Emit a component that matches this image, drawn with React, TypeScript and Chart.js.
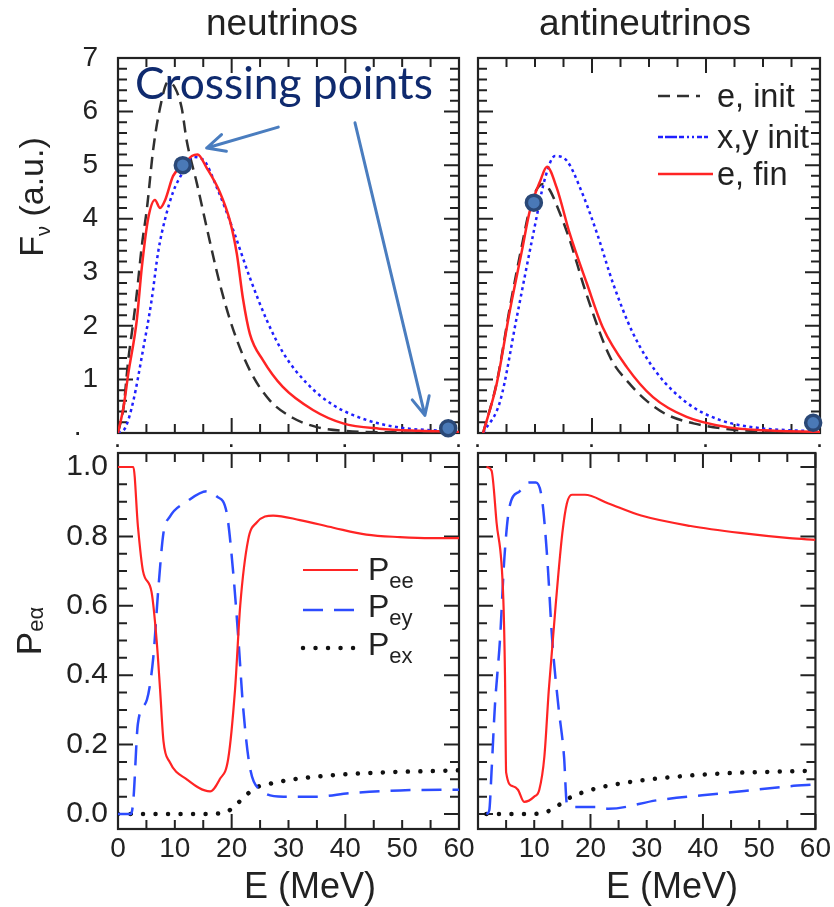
import { useEffect, useRef } from 'react';
import { Chart, registerables } from 'chart.js';

Chart.register(...registerables);

const W = 834;
const H = 907;
const FONT = '"Liberation Sans", Arial, Helvetica, sans-serif';
const HAND = '"Comic Sans MS", "Lato", "DejaVu Sans", sans-serif';
const INK = '#222222';
const RED = '#ff2424';
const BLUE = '#2020ff';
const BLUE2 = '#2d4cff';
const BLACK = '#303030';
const NAVY = '#0f2a6e';
const ARROW = '#4a7dbf';

// ---------------- text ----------------
const panelTitles = ['neutrinos', 'antineutrinos'];
const fluxLegend = ['e, init', 'x,y init', 'e, fin'];
const probLegendMain = 'P';
const probLegendSubs = ['ee', 'ey', 'ex'];
const xAxisTitle = 'E (MeV)';
const crossingLabel = 'Crossing points';

// ---------------- tick values ----------------
const energyTicks = [0, 10, 20, 30, 40, 50, 60];
const energyDotTicks = [0, 20, 40, 60];
const fluxTicks = [0, 1, 2, 3, 4, 5, 6, 7];
const probTicks = [0, 0.2, 0.4, 0.6, 0.8, 1.0];

// ---------------- neutrinos: spectra ----------------
const nuInitE = [0, 1, 1.8, 2.6, 3.3, 4.2, 5.1, 6.2, 7.4, 8.8, 10.0, 11.2, 12.1, 13.9, 15.6, 17.9, 20.3, 23.2, 26.7, 30.8, 35, 40, 50, 60];
const nuInitF = [0, 0.5, 1.36, 2.0, 2.6, 3.5, 4.2, 5.3, 6.07, 6.55, 6.45, 6.07, 5.45, 4.65, 3.84, 2.79, 1.92, 1.17, 0.61, 0.28, 0.11, 0.04, 0.01, 0];

const nuXyE = [0, 1.3, 2.7, 4.4, 5.9, 7.1, 8.3, 9.7, 11.2, 13.2, 15.0, 17.4, 20.3, 23.2, 26.2, 29.1, 33.2, 37.9, 43.8, 49.7, 55.5, 60];
const nuXyF = [0, 0.1, 0.6, 1.55, 2.47, 3.4, 4.0, 4.5, 4.83, 5.15, 5.1, 4.58, 3.78, 2.9, 2.1, 1.49, 0.93, 0.52, 0.24, 0.1, 0.05, 0.03];

const nuFinE = [0, 1, 1.8, 3.3, 4.2, 5.3, 6.5, 7.4, 8.3, 9.7, 11.5, 13.0, 14.0, 15.6, 17.9, 19.7, 20.9, 22.0, 23.2, 25.5, 29.0, 34.3, 39.6, 46, 53, 60];
const nuFinF = [0, 0.5, 1.1, 2.1, 3.1, 4.0, 4.35, 4.2, 4.35, 4.8, 5.0, 5.17, 5.2, 4.95, 4.5, 3.96, 3.35, 2.5, 1.85, 1.36, 0.86, 0.43, 0.18, 0.08, 0.04, 0.02];

// ---------------- antineutrinos: spectra ----------------
const anuInitE = [0.9, 3.3, 5.6, 7.7, 9.1, 10.3, 11.4, 12.5, 14, 16.1, 19, 23.2, 26.5, 29.6, 33, 37.8, 44, 50, 60];
const anuInitF = [0, 0.95, 2.35, 3.5, 4.2, 4.55, 4.65, 4.55, 4.2, 3.6, 2.6, 1.41, 0.93, 0.6, 0.35, 0.18, 0.07, 0.03, 0.01];

const anuXyE = [0.9, 3.9, 6.8, 9.7, 11.8, 13.5, 15.6, 17.9, 20.9, 23.7, 27.2, 31.4, 36.7, 42.5, 49.5, 55, 60];
const anuXyF = [0, 0.6, 2.16, 3.72, 4.77, 5.17, 5.08, 4.58, 3.72, 2.79, 1.86, 1.12, 0.56, 0.24, 0.09, 0.05, 0.03];

const anuFinE = [0.9, 3.3, 5.6, 7.7, 9.1, 10.9, 12.1, 13.8, 16.1, 19.1, 21.9, 26.1, 30.7, 36.6, 43.6, 50, 60];
const anuFinF = [0, 0.93, 2.29, 3.4, 4.15, 4.7, 4.97, 4.58, 3.72, 2.79, 1.97, 1.23, 0.67, 0.3, 0.11, 0.05, 0.02];

// ---------------- crossing points ----------------
const nuCrossE = [11.4, 58.1];
const nuCrossF = [5.0, 0.09];
const anuCrossE = [9.8, 58.8];
const anuCrossF = [4.3, 0.19];

// ---------------- neutrinos: probabilities ----------------
const nuPeeE = [0, 2.7, 3.5, 4.4, 5.9, 6.8, 7.4, 8.0, 9.1, 12.1, 16.2, 17.9, 19.4, 20.6, 21.5, 22.9, 24.4, 27.3, 32, 37.9, 43.7, 49.6, 55, 60];
const nuPeeP = [1.0, 1.0, 0.83, 0.70, 0.64, 0.50, 0.36, 0.21, 0.15, 0.10, 0.065, 0.10, 0.16, 0.36, 0.60, 0.79, 0.84, 0.86, 0.847, 0.825, 0.805, 0.798, 0.795, 0.795];

const nuPeyE = [0, 2.3, 2.7, 3.5, 5.1, 6.2, 7.1, 8.0, 9.1, 12.1, 15.6, 17.4, 19.1, 20.3, 21.2, 22.0, 23.2, 25.0, 29.1, 35, 40.8, 49.6, 58.4, 60];
const nuPeyP = [0, 0, 0.04, 0.26, 0.33, 0.45, 0.65, 0.81, 0.856, 0.90, 0.93, 0.915, 0.87, 0.69, 0.50, 0.31, 0.135, 0.07, 0.05, 0.05, 0.06, 0.068, 0.07, 0.07];

const nuPexE = [0, 5, 10, 15, 19, 20.3, 22.3, 24.1, 26.2, 30.9, 37.9, 46.7, 58.4, 60];
const nuPexP = [0, 0, 0, 0, 0.005, 0.02, 0.05, 0.075, 0.085, 0.10, 0.112, 0.12, 0.125, 0.126];

// ---------------- antineutrinos: probabilities ----------------
const anuPeeE = [1.5, 2.4, 3.3, 4.5, 4.8, 5.0, 6.2, 7.1, 8.2, 10.0, 10.9, 11.8, 12.6, 13.8, 15.0, 15.8, 16.7, 19.0, 23.2, 29.0, 37.8, 46.6, 55.4, 60];
const anuPeeP = [1.0, 0.99, 0.84, 0.62, 0.4, 0.12, 0.08, 0.07, 0.035, 0.05, 0.07, 0.165, 0.36, 0.60, 0.81, 0.895, 0.92, 0.92, 0.895, 0.86, 0.83, 0.81, 0.795, 0.79];

const anuPeyE = [1.5, 2.0, 2.4, 3.0, 3.9, 4.7, 5.6, 7.4, 9.1, 10.3, 11.4, 12.3, 13.2, 14.3, 15.3, 15.8, 17.2, 21.4, 23.2, 32, 43.6, 55.4, 60];
const anuPeyP = [0, 0.01, 0.12, 0.31, 0.5, 0.74, 0.885, 0.93, 0.955, 0.955, 0.905, 0.74, 0.5, 0.31, 0.165, 0.03, 0.02, 0.02, 0.015, 0.04, 0.06, 0.08, 0.085];

const anuPexE = [1.5, 5, 9, 12.0, 14.3, 16.1, 20.2, 26.1, 34.9, 43.6, 55.4, 60];
const anuPexP = [0, 0, 0, 0.005, 0.025, 0.045, 0.07, 0.09, 0.107, 0.117, 0.123, 0.125];

// ---------------- annotation anchors (data coordinates of the top-left panel) ----------------
const crossingLabelAt = [29.2, 6.23];
const arrowToPeak = [[28.2, 5.71], [15.6, 5.32]];
const arrowToTail = [[41.7, 5.79], [54.0, 0.33]];

// ---------------- styles ----------------
const S_INIT = { color: BLACK, width: 2.5, dash: [12, 7], cap: 'butt' };
const S_XY = { color: BLUE, width: 2.5, dash: [3, 3.5], cap: 'butt' };
const S_XY_LEG = { color: BLUE, width: 2.5, dash: [5, 2, 12, 2, 5, 3, 2, 3, 2, 3], cap: 'butt' };
const S_FIN = { color: RED, width: 2.5, dash: [] as number[], cap: 'butt' };
const S_PEE = { color: RED, width: 2.2, dash: [] as number[], cap: 'butt' };
const S_PEY = { color: BLUE2, width: 2.5, dash: [20, 11], cap: 'butt' };
const S_PEX = { color: '#111111', width: 4.5, dash: [0.01, 12.5], cap: 'round' };

type Style = { color: string; width: number; dash: number[]; cap: string };

const pts = (xs: number[], ys: number[]) => xs.map((x, i) => ({ x, y: ys[i] }));

function lineDs(xs: number[], ys: number[], s: Style, order: number) {
  return {
    data: pts(xs, ys),
    borderColor: s.color,
    backgroundColor: s.color,
    borderWidth: s.width,
    borderDash: s.dash,
    borderCapStyle: s.cap,
    pointRadius: 0,
    pointHoverRadius: 0,
    fill: false,
    cubicInterpolationMode: 'monotone',
    order,
  };
}

function dotsDs(xs: number[], ys: number[]) {
  return {
    data: pts(xs, ys),
    showLine: false,
    pointRadius: 7.5,
    pointHoverRadius: 7.5,
    pointBorderWidth: 3.5,
    pointBackgroundColor: '#4a79b7',
    pointBorderColor: '#2a4877',
    borderColor: 'rgba(0,0,0,0)',
    order: -1,
    clip: false,
  };
}

// ---------------- drawing helpers ----------------
type Part = { t: string; size: number; dy?: number };

function drawRich(ctx: CanvasRenderingContext2D, parts: Part[], x: number, y: number, align: 'left' | 'center', rotate = false, color = INK) {
  ctx.save();
  ctx.translate(x, y);
  if (rotate) ctx.rotate(-Math.PI / 2);
  ctx.textBaseline = 'alphabetic';
  ctx.textAlign = 'left';
  ctx.fillStyle = color;
  let w = 0;
  for (const p of parts) {
    ctx.font = `${p.size}px ${FONT}`;
    w += ctx.measureText(p.t).width;
  }
  let cx = align === 'center' ? -w / 2 : 0;
  for (const p of parts) {
    ctx.font = `${p.size}px ${FONT}`;
    ctx.fillText(p.t, cx, p.dy || 0);
    cx += ctx.measureText(p.t).width;
  }
  ctx.restore();
}

function sample(ctx: CanvasRenderingContext2D, s: Style, x1: number, x2: number, y: number) {
  ctx.save();
  ctx.strokeStyle = s.color;
  ctx.lineWidth = s.width;
  ctx.setLineDash(s.dash);
  ctx.lineCap = s.cap as CanvasLineCap;
  ctx.beginPath();
  ctx.moveTo(x1, y);
  ctx.lineTo(x2, y);
  ctx.stroke();
  ctx.restore();
}

function drawArrow(ctx: CanvasRenderingContext2D, x1: number, y1: number, x2: number, y2: number) {
  const ang = Math.atan2(y2 - y1, x2 - x1);
  const head = 20;
  ctx.save();
  ctx.strokeStyle = ARROW;
  ctx.lineWidth = 3;
  ctx.lineCap = 'round';
  ctx.lineJoin = 'round';
  ctx.beginPath();
  ctx.moveTo(x1, y1);
  ctx.lineTo(x2, y2);
  for (const s of [-1, 1]) {
    const a = ang + Math.PI + s * 0.45;
    ctx.moveTo(x2, y2);
    ctx.lineTo(x2 + head * Math.cos(a), y2 + head * Math.sin(a));
  }
  ctx.stroke();
  ctx.restore();
}

const isMultiple = (v: number, m: number) => Math.abs(v / m - Math.round(v / m)) < 1e-6;

type Panel = {
  key: string;
  left: number; top: number; right: number; bottom: number;
  datasets: any[];
  yMin: number; yMax: number;
  yMinor: number; yMajor: number;
  xLabelMode: 'dots' | 'numbers' | 'numbersNoZero';
  yLabelMode: 'flux' | 'prob' | 'none';
  decorate: (chart: any, ctx: CanvasRenderingContext2D) => void;
};

function framePlugin(p: Panel) {
  return {
    id: 'frame' + p.key,
    beforeDatasetsDraw(chart: any) {
      const { ctx, chartArea: a, scales } = chart;
      const xs = scales.x;
      const ys = scales.y;
      ctx.save();
      ctx.strokeStyle = INK;
      ctx.lineWidth = 2;
      ctx.beginPath();
      const xMinor = 5;
      const xMajor = 20;
      for (let k = Math.ceil(xs.min / xMinor - 1e-9); k * xMinor <= xs.max + 1e-9; k++) {
        const v = k * xMinor;
        const px = xs.getPixelForValue(v);
        const len = isMultiple(v, xMajor) ? 15 : 9;
        ctx.moveTo(px, a.top);
        ctx.lineTo(px, a.top + len);
        ctx.moveTo(px, a.bottom);
        ctx.lineTo(px, a.bottom - len);
      }
      for (let k = Math.ceil(ys.min / p.yMinor - 1e-9); k * p.yMinor <= ys.max + 1e-9; k++) {
        const v = k * p.yMinor;
        const py = ys.getPixelForValue(v);
        const len = isMultiple(v, p.yMajor) ? 15 : 9;
        ctx.moveTo(a.left, py);
        ctx.lineTo(a.left + len, py);
        ctx.moveTo(a.right, py);
        ctx.lineTo(a.right - len, py);
      }
      ctx.stroke();
      ctx.lineWidth = 2.2;
      ctx.strokeRect(a.left, a.top, a.right - a.left, a.bottom - a.top);
      ctx.restore();
    },
    afterDatasetsDraw(chart: any) {
      const ctx = chart.ctx as CanvasRenderingContext2D;
      ctx.save();
      p.decorate(chart, ctx);
      ctx.restore();
    },
  };
}

function buildConfig(p: Panel): any {
  const xTicks: any = {
    autoSkip: false,
    maxRotation: 0,
    minRotation: 0,
    color: INK,
  };
  if (p.xLabelMode === 'dots') {
    xTicks.font = { family: FONT, size: 18, weight: 'bold' };
    xTicks.padding = 3;
    xTicks.callback = () => '·';
  } else {
    xTicks.font = { family: FONT, size: 28 };
    xTicks.padding = 3;
    xTicks.callback = (v: number) => (p.xLabelMode === 'numbersNoZero' && v === 0 ? '' : String(v));
  }
  const yScale: any = {
    type: 'linear',
    min: p.yMin,
    max: p.yMax,
    grid: { display: false, drawTicks: false },
    border: { display: false },
  };
  let padLeft = p.left;
  if (p.yLabelMode === 'none') {
    yScale.display = false;
  } else {
    padLeft = 0;
    yScale.afterFit = (s: any) => { s.width = p.left; };
    if (p.yLabelMode === 'flux') {
      yScale.afterBuildTicks = (s: any) => { s.ticks = fluxTicks.map((v) => ({ value: v })); };
      yScale.ticks = {
        font: { family: FONT, size: 28 },
        color: INK,
        padding: 20,
        autoSkip: false,
        callback: (v: number) => (v === 0 ? '·  ' : String(v)),
      };
    } else {
      yScale.afterBuildTicks = (s: any) => { s.ticks = probTicks.map((v) => ({ value: v })); };
      yScale.ticks = {
        font: { family: FONT, size: 30 },
        color: INK,
        padding: 10,
        autoSkip: false,
        callback: (v: number) => v.toFixed(1),
      };
    }
  }
  const xValues = p.xLabelMode === 'dots' ? energyDotTicks : energyTicks;
  return {
    type: 'line',
    data: { datasets: p.datasets },
    options: {
      animation: false,
      responsive: false,
      maintainAspectRatio: false,
      events: [],
      layout: { padding: { left: padLeft, top: p.top, right: W - p.right, bottom: 0 } },
      plugins: { legend: { display: false }, tooltip: { enabled: false }, title: { display: false } },
      scales: {
        x: {
          type: 'linear',
          min: 0,
          max: 60,
          afterFit: (s: any) => { s.height = H - p.bottom; },
          afterBuildTicks: (s: any) => { s.ticks = xValues.map((v) => ({ value: v })); },
          grid: { display: false, drawTicks: false },
          border: { display: false },
          ticks: xTicks,
        },
        y: yScale,
      },
    },
    plugins: [framePlugin(p)],
  };
}

// ---------------- panels ----------------
const panels: Panel[] = [
  {
    key: 'tl', left: 118, top: 58, right: 459, bottom: 433,
    datasets: [
      dotsDs(nuCrossE, nuCrossF),
      lineDs(nuFinE, nuFinF, S_FIN, 1),
      lineDs(nuXyE, nuXyF, S_XY, 2),
      lineDs(nuInitE, nuInitF, S_INIT, 3),
    ],
    yMin: 0, yMax: 7, yMinor: 0.2, yMajor: 1,
    xLabelMode: 'dots', yLabelMode: 'flux',
    decorate: (chart, ctx) => {
      drawRich(ctx, [{ t: panelTitles[0], size: 37 }], 282, 35, 'center');
      drawRich(ctx, [{ t: 'F', size: 34 }, { t: 'ν', size: 20, dy: 7 }, { t: ' (a.u.)', size: 34 }], 43, 197, 'center', true);
      const xs = chart.scales.x;
      const ys = chart.scales.y;
      ctx.font = `40px ${HAND}`;
      const w = ctx.measureText(crossingLabel).width;
      const size = (40 * 298) / w;
      ctx.font = `${size}px ${HAND}`;
      ctx.fillStyle = NAVY;
      ctx.textAlign = 'center';
      ctx.textBaseline = 'alphabetic';
      ctx.fillText(crossingLabel, xs.getPixelForValue(crossingLabelAt[0]), ys.getPixelForValue(crossingLabelAt[1]));
      for (const [from, to] of [arrowToPeak, arrowToTail]) {
        drawArrow(ctx, xs.getPixelForValue(from[0]), ys.getPixelForValue(from[1]), xs.getPixelForValue(to[0]), ys.getPixelForValue(to[1]));
      }
    },
  },
  {
    key: 'tr', left: 478, top: 58, right: 820, bottom: 433,
    datasets: [
      dotsDs(anuCrossE, anuCrossF),
      lineDs(anuFinE, anuFinF, S_FIN, 1),
      lineDs(anuXyE, anuXyF, S_XY, 2),
      lineDs(anuInitE, anuInitF, S_INIT, 3),
    ],
    yMin: 0, yMax: 7, yMinor: 0.2, yMajor: 1,
    xLabelMode: 'dots', yLabelMode: 'none',
    decorate: (_chart, ctx) => {
      drawRich(ctx, [{ t: panelTitles[1], size: 37 }], 645, 35, 'center');
      const styles = [S_INIT, S_XY_LEG, S_FIN];
      const ends = [700, 708, 713];
      const baselines = [107, 148, 185];
      fluxLegend.forEach((label, i) => {
        sample(ctx, styles[i], 658, ends[i], baselines[i] - 11);
        drawRich(ctx, [{ t: label, size: 32.5 }], 717, baselines[i], 'left');
      });
    },
  },
  {
    key: 'bl', left: 118, top: 453, right: 459, bottom: 829,
    datasets: [
      lineDs(nuPeeE, nuPeeP, S_PEE, 1),
      lineDs(nuPeyE, nuPeyP, S_PEY, 2),
      lineDs(nuPexE, nuPexP, S_PEX, 3),
    ],
    yMin: -0.0432, yMax: 1.0403, yMinor: 0.05, yMajor: 0.2,
    xLabelMode: 'numbers', yLabelMode: 'prob',
    decorate: (_chart, ctx) => {
      drawRich(ctx, [{ t: 'P', size: 35 }, { t: 'eα', size: 22, dy: 2 }], 41, 631, 'center', true);
      drawRich(ctx, [{ t: xAxisTitle, size: 36 }], 310, 898, 'center');
      const styles = [S_PEE, S_PEY, S_PEX];
      const lineY = [570, 610, 648];
      const baselines = [580, 617, 655];
      probLegendSubs.forEach((sub, i) => {
        sample(ctx, styles[i], 303, 358, lineY[i]);
        drawRich(ctx, [{ t: probLegendMain, size: 32 }, { t: sub, size: 22, dy: 8 }], 368, baselines[i], 'left');
      });
    },
  },
  {
    key: 'br', left: 478, top: 453, right: 820, bottom: 829,
    datasets: [
      lineDs(anuPeeE, anuPeeP, S_PEE, 1),
      lineDs(anuPeyE, anuPeyP, S_PEY, 2),
      lineDs(anuPexE, anuPexP, S_PEX, 3),
    ],
    yMin: -0.0432, yMax: 1.0403, yMinor: 0.05, yMajor: 0.2,
    xLabelMode: 'numbersNoZero', yLabelMode: 'none',
    decorate: (_chart, ctx) => {
      drawRich(ctx, [{ t: xAxisTitle, size: 36 }], 672, 898, 'center');
    },
  },
];

export default function App() {
  const r0 = useRef<HTMLCanvasElement>(null);
  const r1 = useRef<HTMLCanvasElement>(null);
  const r2 = useRef<HTMLCanvasElement>(null);
  const r3 = useRef<HTMLCanvasElement>(null);
  const refs = [r0, r1, r2, r3];

  useEffect(() => {
    const charts = panels.map((p, i) => new Chart(refs[i].current as HTMLCanvasElement, buildConfig(p)));
    return () => charts.forEach((c) => c.destroy());
  }, []);

  return (
    <div style={{ position: 'absolute', left: 0, top: 0, width: W, height: H, background: '#ffffff', overflow: 'hidden' }}>
      {refs.map((r, i) => (
        <canvas key={i} ref={r} width={W} height={H} style={{ position: 'absolute', left: 0, top: 0, width: W, height: H }} />
      ))}
    </div>
  );
}
